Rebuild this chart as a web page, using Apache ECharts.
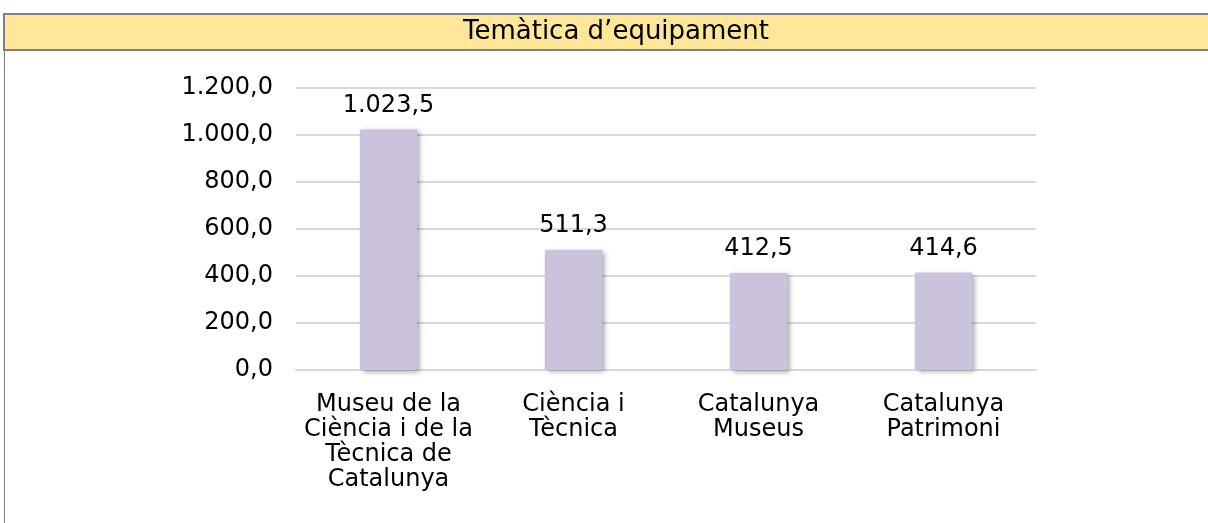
<!DOCTYPE html>
<html>
<head>
<meta charset="utf-8">
<script src="https://cdn.jsdelivr.net/npm/echarts@6/dist/echarts.min.js"></script>
<style>
  html, body { margin: 0; padding: 0; background: #fff; }
  #main { width: 1208px; height: 523px; }
</style>
</head>
<body>
<div id="main"></div>
<script>
var categories = ['Museu de la\nCiència i de la\nTècnica de\nCatalunya', 'Ciència i\nTècnica', 'Catalunya\nMuseus', 'Catalunya\nPatrimoni'];
var values = [1023.5, 511.3, 412.5, 414.6];
var yTicks = [0, 200, 400, 600, 800, 1000, 1200];

function fmt(v, dec) {
  var parts = v.toFixed(dec).split('.');
  parts[0] = parts[0].replace(/\B(?=(\d{3})+(?!\d))/g, '.');
  return parts.join(',');
}

var chartDom = document.getElementById('main');
var myChart = echarts.init(chartDom);
var option;

option = {
  animation: false,
  textStyle: { fontFamily: 'DejaVu Sans' },
  graphic: [
    { type: 'rect', shape: { x: 4, y: 14, width: 1210, height: 36 },
      style: { fill: '#FFE699', stroke: '#808080', lineWidth: 2 } },
    { type: 'line', shape: { x1: 4.5, y1: 50, x2: 4.5, y2: 523 },
      style: { stroke: '#808080', lineWidth: 1 } },
    { type: 'text', x: 616, y: 32,
      style: { text: 'Temàtica d\u2019equipament', fontSize: 26, fontFamily: 'DejaVu Sans',
        fill: '#000', align: 'center', verticalAlign: 'middle' } }
  ],
  grid: { left: 296, right: 172, top: 88, bottom: 153 },
  xAxis: {
    type: 'category',
    data: categories,
    axisLine: { lineStyle: { color: '#d9d9d9', width: 2 } },
    axisTick: { show: false },
    axisLabel: { color: '#000', fontSize: 24, lineHeight: 25, margin: 22, interval: 0 }
  },
  yAxis: {
    type: 'value',
    min: yTicks[0], max: yTicks[yTicks.length - 1], interval: 200,
    axisLine: { show: false },
    axisTick: { show: false },
    splitLine: { lineStyle: { color: '#d9d9d9', width: 2 } },
    axisLabel: { color: '#000', fontSize: 24, margin: 23,
      formatter: function (v) { return fmt(v, 1); } }
  },
  series: [
    {
      type: 'bar',
      data: values,
      barWidth: '31%',
      itemStyle: {
        color: '#CBC2DC',
        shadowColor: 'rgba(0,0,0,0.35)',
        shadowBlur: 5,
        shadowOffsetX: 3,
        shadowOffsetY: 2
      },
      label: {
        show: true, position: 'top', distance: 12,
        color: '#000', fontSize: 24,
        formatter: function (p) { return fmt(p.value, 1); }
      }
    }
  ]
};

option && myChart.setOption(option);
</script>
</body>
</html>
